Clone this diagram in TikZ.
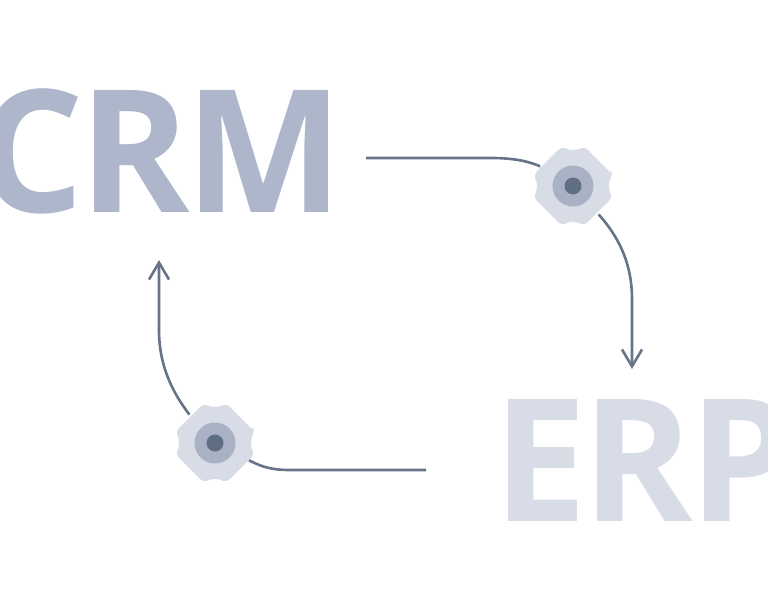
\documentclass[tikz,border=0pt]{standalone}
\usepackage{fontspec}
\newfontfamily\wordfont[LetterSpace=-2.7]{Open Sans}
\usetikzlibrary{arrows.meta}
\definecolor{crmblue}{HTML}{ADB6CA}
\definecolor{erpgrey}{HTML}{D8DCE7}
\definecolor{ringgrey}{HTML}{A9B2C5}
\definecolor{linegrey}{HTML}{667389}
\definecolor{hubgrey}{HTML}{5F6E82}
\tikzset{
  word/.style={inner sep=0pt,anchor=base west,xscale=.98,transform shape,font=\fontsize{171}{171}\wordfont\bfseries},
  gearbody/.style={circle,inner sep=0pt,minimum size=76pt},
  gearring/.style={circle,fill=ringgrey,inner sep=0pt,minimum size=41pt},
  gearhub/.style={circle,fill=hubgrey,inner sep=0pt,minimum size=17pt},
  flow/.style={draw=linegrey,line width=2.6pt},
  flowtip/.style={flow,-{Straight Barb[length=17pt,width=20pt,line width=2.6pt]}}
}
\newcommand{\gearwheel}[3]{
  \fill [erpgrey,shift={(#2,#3)},rounded corners=4pt] (-17:40.8)
    \foreach \a in {0,90,180,270} { -- (\a:35.2) -- (\a+17:40.8) -- (\a+73:40.8) } -- cycle;
  \node (#1) [gearbody] at (#2,#3) {};
  \node (#1ring) [gearring] at (#1) {};
  \node (#1hub) [gearhub] at (#1) {};
}
\begin{document}
\begin{tikzpicture}[x=1pt,y=-1pt]
\useasboundingbox (0,0) rectangle (768,604);

\node (crm) [word,text=crmblue] at (-23,213) {CRM};
\node (erp) [word,text=erpgrey] at (493.3,521) {ERP};

\gearwheel{gearA}{573}{186}
\gearwheel{gearB}{215}{443}

\coordinate (crmout) at (366,158);
\coordinate (erpin) at (632,369);
\coordinate (erpout) at (426,470);
\coordinate (crmin) at (159,260);

\draw [flow] (crmout) -- (490,158) .. controls (510,158) and (525,160) .. (gearA.149);
\draw [flowtip] (gearA.-48) .. controls (619,237) and (632,264) .. (632,299) -- (erpin);
\draw [flow] (erpout) -- (290,470) .. controls (272,470) and (262,467) .. (gearB.-27);
\draw [flowtip] (gearB.132) .. controls (172,392) and (159,365) .. (159,330) -- (crmin);
\end{tikzpicture}
\end{document}
